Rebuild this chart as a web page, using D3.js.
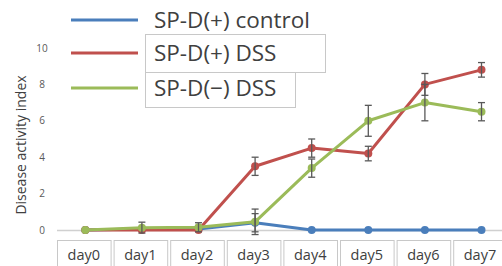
<!DOCTYPE html>
<html>
<head>
<meta charset="utf-8">
<script src="https://cdn.jsdelivr.net/npm/d3@7"></script>
<style>
  body { margin: 0; background: #fff; }
  text { font-family: "Open Sans", "Noto Sans", sans-serif; }
</style>
</head>
<body>
<svg width="502" height="266"></svg>
<script>
// data
var days = ['day0', 'day1', 'day2', 'day3', 'day4', 'day5', 'day6', 'day7'];
var controlPlus = [0, 0.05, 0.05, 0.4, 0, 0, 0, 0];
var controlPlusErr = [0, 0, 0, 0.5, 0, 0, 0, 0];
var dssPlus = [0, 0, 0, 3.5, 4.5, 4.2, 8.0, 8.8];
var dssPlusErr = [0, 0, 0, 0.5, 0.5, 0.4, 0.6, 0.4];
var dssMinus = [0, 0.13, 0.15, 0.45, 3.4, 6.0, 7.0, 6.5];
var dssMinusErr = [0, 0.3, 0.25, 0.7, 0.5, 0.85, 1.0, 0.5];
var yTicks = [0, 2, 4, 6, 8, 10];
var seriesNames = ['SP-D(+) control', 'SP-D(+) DSS', 'SP-D(\u2212) DSS'];
var seriesColors = ['#4a7ebb', '#c0504d', '#9bbb59'];

var series = [
  {name: seriesNames[0], color: seriesColors[0], values: controlPlus, err: controlPlusErr},
  {name: seriesNames[1], color: seriesColors[1], values: dssPlus, err: dssPlusErr},
  {name: seriesNames[2], color: seriesColors[2], values: dssMinus, err: dssMinusErr}
];

var svg = d3.select('svg');
var margin = {left: 57, top: 48, bottom: 230};

var x = d3.scaleBand().domain(days).range([margin.left, margin.left + 8 * 56.6]);
var y = d3.scaleLinear().domain([0, 10]).range([margin.bottom, margin.top]);
var cx = function(i) { return x(days[i]) + x.bandwidth() / 2; };

// y tick labels (no axis line, no grid)
svg.append('g')
  .selectAll('text')
  .data(yTicks)
  .join('text')
  .attr('x', 42)
  .attr('y', function(d) { return y(d); })
  .attr('dy', '0.35em')
  .attr('text-anchor', 'middle')
  .attr('font-size', 10)
  .attr('fill', '#595959')
  .text(function(d) { return d; });

// y axis title
svg.append('text')
  .attr('transform', 'translate(26,' + 145 + ') rotate(-90)')
  .attr('text-anchor', 'middle')
  .attr('font-size', 14)
  .attr('fill', '#404040')
  .text('Disease activity index');

// category axis line
svg.append('line')
  .attr('x1', margin.left).attr('x2', 502)
  .attr('y1', y(0) + 0.5).attr('y2', y(0) + 0.5)
  .attr('stroke', '#d0d0d0')
  .attr('stroke-width', 1.5);

// category labels in boxes
var cat = svg.append('g')
  .selectAll('g')
  .data(days)
  .join('g')
  .attr('transform', function(d) { return 'translate(' + x(d) + ',240)'; });

cat.append('rect')
  .attr('x', 0.5).attr('y', 0.5)
  .attr('width', x.bandwidth() - 3).attr('height', 40)
  .attr('fill', '#fff')
  .attr('stroke', '#c8c8c8');

cat.append('text')
  .attr('x', (x.bandwidth() - 3) / 2)
  .attr('y', 19.5)
  .attr('text-anchor', 'middle')
  .attr('font-size', 14.5)
  .attr('fill', '#404040')
  .text(function(d) { return d; });

// lines and markers
var line = d3.line()
  .x(function(d, i) { return cx(i); })
  .y(function(d) { return y(d); });

var sg = svg.append('g')
  .selectAll('g')
  .data(series)
  .join('g');

sg.append('path')
  .attr('d', function(s) { return line(s.values); })
  .attr('fill', 'none')
  .attr('stroke', function(s) { return s.color; })
  .attr('stroke-width', 3)
  .attr('stroke-linejoin', 'round');

sg.selectAll('circle')
  .data(function(s) { return s.values.map(function(v) { return {v: v, c: s.color}; }); })
  .join('circle')
  .attr('cx', function(d, i) { return cx(i); })
  .attr('cy', function(d) { return y(d.v); })
  .attr('r', 4)
  .attr('fill', function(d) { return d.c; });

// error bars on top
var eb = svg.append('g')
  .attr('stroke', '#595959')
  .attr('stroke-width', 1.3);

series.forEach(function(s) {
  s.values.forEach(function(v, i) {
    var e = s.err[i];
    if (!e) return;
    var x0 = cx(i), y1 = y(v + e), y2 = y(v - e);
    eb.append('line').attr('x1', x0).attr('x2', x0).attr('y1', y1).attr('y2', y2);
    eb.append('line').attr('x1', x0 - 3.5).attr('x2', x0 + 3.5).attr('y1', y1).attr('y2', y1);
    eb.append('line').attr('x1', x0 - 3.5).attr('x2', x0 + 3.5).attr('y1', y2).attr('y2', y2);
  });
});

// legend boxes (text boxes around the last two entries)
svg.append('rect')
  .attr('x', 145.5).attr('y', 34.5).attr('width', 180).attr('height', 38)
  .attr('fill', '#fff').attr('stroke', '#c8c8c8');
svg.append('rect')
  .attr('x', 145.5).attr('y', 72.5).attr('width', 150).attr('height', 35)
  .attr('fill', '#fff').attr('stroke', '#c8c8c8');

var leg = svg.append('g')
  .selectAll('g')
  .data(series)
  .join('g')
  .attr('transform', function(d, i) { return 'translate(71,' + [20, 53, 88][i] + ')'; });

leg.append('line')
  .attr('x1', 0).attr('x2', 67)
  .attr('stroke', function(d) { return d.color; })
  .attr('stroke-width', 3);

leg.append('text')
  .attr('x', 83)
  .attr('dy', '0.36em')
  .attr('font-size', 22.5)
  .attr('fill', '#404040')
  .text(function(d) { return d.name; });
</script>
</body>
</html>
